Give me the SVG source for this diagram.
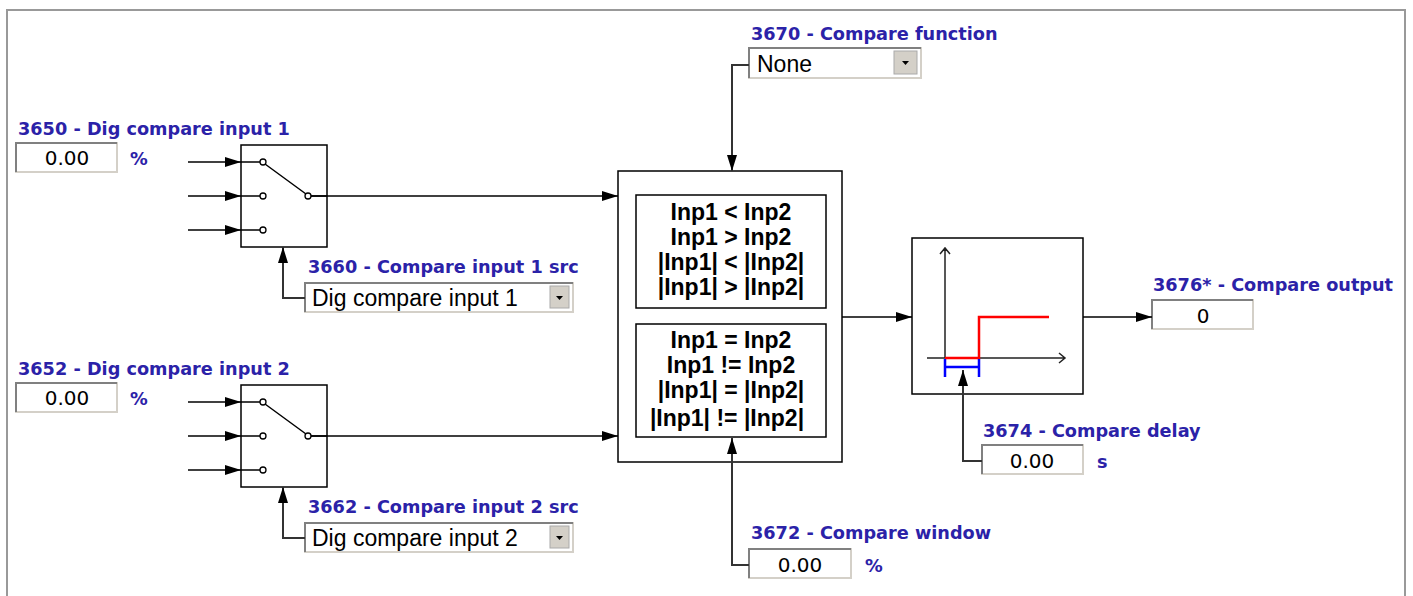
<svg xmlns="http://www.w3.org/2000/svg" width="1413" height="596" viewBox="0 0 1413 596">
<defs>
<marker id="arr" markerUnits="userSpaceOnUse" markerWidth="16" markerHeight="10" refX="16" refY="5" orient="auto">
<path d="M0,0 L16,5 L0,10 z" fill="#000"/>
</marker>
<style>
.lbl{font-family:"DejaVu Sans",Verdana,sans-serif;font-weight:bold;font-size:17.7px;fill:#2b22a8}
.val{font-family:"DejaVu Sans",Verdana,sans-serif;font-size:20px;fill:#000;text-anchor:middle}
.dd{font-family:"Liberation Sans",Arial,sans-serif;font-size:23px;fill:#000}
.cmp{font-family:"Liberation Sans",Arial,sans-serif;font-weight:bold;font-size:23px;fill:#000;text-anchor:middle}
.box{fill:#fff;stroke:#000;stroke-width:1.5}
.ln{fill:none;stroke:#000;stroke-width:1.5}
.con{fill:none;stroke:#000;stroke-width:1.5;marker-end:url(#arr)}
.sel{fill:none;stroke:#333;stroke-width:2;marker-end:url(#arr)}
.pin{fill:#fff;stroke:#000;stroke-width:1.3}
.inbox{fill:#fff;stroke:#d4d0c8;stroke-width:2}
.inset{fill:none;stroke:#808080;stroke-width:2}
.btn{fill:#d4d0c8;stroke:#aaa;stroke-width:1}
</style>
</defs>
<rect width="1413" height="596" fill="#fff"/>
<path d="M7,600 V10 H1405 V600" fill="none" stroke="#999" stroke-width="2"/>

<g id="in1">
<text class="lbl" x="18" y="135">3650 - Dig compare input 1</text>
<rect class="inbox" x="16" y="143" width="101" height="29"/>
<path class="inset" d="M16,172 V143 H117"/>
<text class="val" x="67" y="165">0.00</text>
<text class="lbl" x="130" y="165">%</text>
</g>

<g id="in2">
<text class="lbl" x="18" y="375">3652 - Dig compare input 2</text>
<rect class="inbox" x="16" y="383" width="101" height="29"/>
<path class="inset" d="M16,412 V383 H117"/>
<text class="val" x="67" y="405">0.00</text>
<text class="lbl" x="130" y="405">%</text>
</g>

<g id="switch1">
<rect class="box" x="241" y="145" width="86" height="102"/>
<path class="ln" d="M241,162 H260 M241,196 H260 M241,230 H260 M265,164 L306,194 M311,196 H327"/>
<circle class="pin" cx="263" cy="162" r="3"/>
<circle class="pin" cx="263" cy="196" r="3"/>
<circle class="pin" cx="263" cy="230" r="3"/>
<circle class="pin" cx="308" cy="196" r="3"/>
</g>

<g id="switch2">
<rect class="box" x="241" y="385" width="86" height="102"/>
<path class="ln" d="M241,402 H260 M241,436 H260 M241,470 H260 M265,404 L306,434 M311,436 H327"/>
<circle class="pin" cx="263" cy="402" r="3"/>
<circle class="pin" cx="263" cy="436" r="3"/>
<circle class="pin" cx="263" cy="470" r="3"/>
<circle class="pin" cx="308" cy="436" r="3"/>
</g>

<g id="src1">
<text class="lbl" x="308" y="273">3660 - Compare input 1 src</text>
<rect class="inbox" x="305" y="283" width="268" height="29"/>
<path class="inset" d="M305,312 V283 H573"/>
<rect class="btn" x="550" y="286" width="19" height="22"/>
<path d="M556,296 H563 L559.5,300 z" fill="#000"/>
<text class="dd" x="312" y="306">Dig compare input  1</text>
</g>

<g id="src2">
<text class="lbl" x="308" y="513">3662 - Compare input 2 src</text>
<rect class="inbox" x="305" y="523" width="268" height="29"/>
<path class="inset" d="M305,552 V523 H573"/>
<rect class="btn" x="550" y="526" width="19" height="22"/>
<path d="M556,536 H563 L559.5,540 z" fill="#000"/>
<text class="dd" x="312" y="546">Dig compare input  2</text>
</g>

<g id="func">
<text class="lbl" x="751" y="40">3670 - Compare function</text>
<rect class="inbox" x="749" y="48" width="172" height="30"/>
<path class="inset" d="M749,78 V48 H921"/>
<rect class="btn" x="894" y="51" width="23" height="23"/>
<path d="M902,61 H909 L905.5,65 z" fill="#000"/>
<text class="dd" x="757" y="72">None</text>
</g>

<g id="compare">
<rect class="box" x="618" y="171" width="224" height="291"/>
<rect class="box" x="636" y="195" width="190" height="113"/>
<rect class="box" x="636" y="324" width="190" height="113"/>
<text class="cmp" x="731" y="220">Inp1 &lt; Inp2</text>
<text class="cmp" x="731" y="245">Inp1 &gt; Inp2</text>
<text class="cmp" x="731" y="270">|Inp1| &lt; |Inp2|</text>
<text class="cmp" x="731" y="295">|Inp1| &gt; |Inp2|</text>
<text class="cmp" x="731" y="348">Inp1 = Inp2</text>
<text class="cmp" x="731" y="373">Inp1 != Inp2</text>
<text class="cmp" x="731" y="398">|Inp1| = |Inp2|</text>
<text class="cmp" x="727" y="426">|Inp1| != |Inp2|</text>
</g>

<g id="window">
<text class="lbl" x="751" y="539">3672 - Compare window</text>
<rect class="inbox" x="749" y="549" width="102" height="29"/>
<path class="inset" d="M749,578 V549 H851"/>
<text class="val" x="800" y="572">0.00</text>
<text class="lbl" x="865" y="572">%</text>
</g>

<g id="delayblock">
<rect class="box" x="912" y="238" width="171" height="156"/>
<path d="M945,358 V248 M940,254 L945,248 L950,254 M927,358 H1065 M1059,353 L1065,358 L1059,363" fill="none" stroke="#222" stroke-width="1.5"/>
<path d="M945,358 H979 V317 H1049" fill="none" stroke="#f00" stroke-width="2.5"/>
<path d="M945,359 V377 M979,359 V377 M945,367 H979" fill="none" stroke="#00f" stroke-width="2.5"/>
</g>

<g id="delay">
<text class="lbl" x="983" y="437">3674 - Compare delay</text>
<rect class="inbox" x="982" y="445" width="101" height="29"/>
<path class="inset" d="M982,474 V445 H1083"/>
<text class="val" x="1032" y="468">0.00</text>
<text class="lbl" x="1097" y="468">s</text>
</g>

<g id="output">
<text class="lbl" x="1153" y="291">3676* - Compare output</text>
<rect class="inbox" x="1152" y="300" width="101" height="29"/>
<path class="inset" d="M1152,329 V300 H1253"/>
<text class="val" x="1203" y="323">0</text>
</g>

<g id="connectors">
<path class="con" d="M188,162 H241"/>
<path class="con" d="M188,196 H241"/>
<path class="con" d="M188,230 H241"/>
<path class="con" d="M188,402 H241"/>
<path class="con" d="M188,436 H241"/>
<path class="con" d="M188,470 H241"/>
<path class="con" d="M311,196 H618"/>
<path class="con" d="M311,436 H618"/>
<path class="sel" d="M305,298 H283 V247"/>
<path class="sel" d="M305,538 H283 V487"/>
<path class="sel" d="M749,65 H732 V171"/>
<path class="sel" d="M749,565 H732 V438"/>
<path class="con" d="M842,317 H912"/>
<path class="sel" d="M982,461 H963 V370"/>
<path class="con" d="M1083,317 H1152"/>
</g>
</svg>
